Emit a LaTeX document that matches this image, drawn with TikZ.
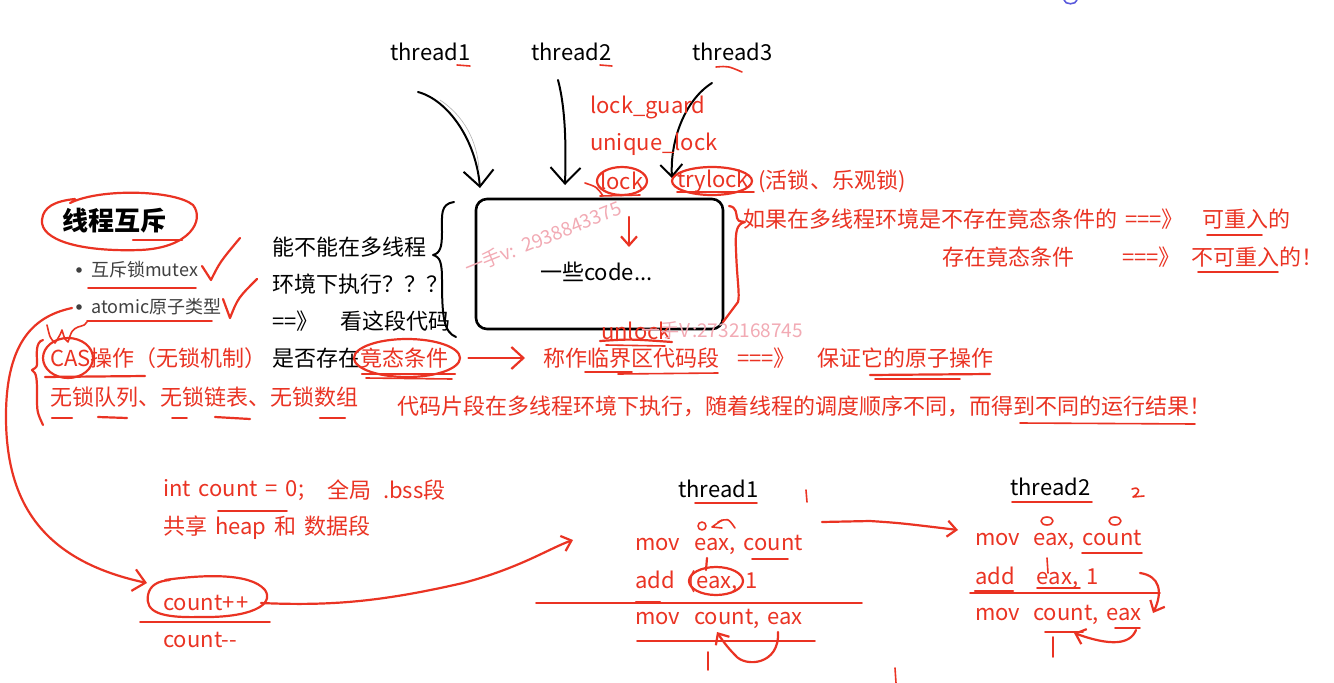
\documentclass[tikz,border=0pt]{standalone}
\usepackage{fontspec}
\setmainfont{Noto Sans CJK SC}[WordSpace=1.6]
\usetikzlibrary{arrows.meta,calc}
\definecolor{pr}{RGB}{234,51,35}
\definecolor{wm}{RGB}{242,170,180}
\definecolor{gr}{RGB}{64,64,64}
\definecolor{bl}{RGB}{90,90,220}
\begin{document}
\begin{tikzpicture}[x=1pt,y=-1pt,
  txt/.style={inner sep=0pt, anchor=west, font=\fontsize{22}{26}\selectfont},
  rt/.style={txt, text=pr},
  bt/.style={txt, text=black},
  st/.style={inner sep=0pt, anchor=west, font=\fontsize{18}{21}\selectfont, text=gr},
  wmt/.style={inner sep=0pt, font=\fontsize{19}{22}\selectfont, text=wm},
  pen/.style={draw=pr, line width=2.2pt, line cap=round, line join=round},
  thinpen/.style={draw=pr, line width=1.6pt, line cap=round, line join=round},
  bpen/.style={draw=black, line width=2pt, line cap=round, line join=round},
  barb/.style={-{Straight Barb[length=12pt,width=22pt]}},
  bbarb/.style={-{Straight Barb[length=16pt,width=30pt]}},
  sbarb/.style={-{Straight Barb[length=9pt,width=16pt]}},
]
\fill[white] (0,0) rectangle (1334,683);
\useasboundingbox (0,0) rectangle (1334,683);

% tiny blue mark at top
\draw[bl, line width=1.6pt] (1064,0) .. controls (1065,5) and (1076,5) .. (1077,0);

% ---------------- top threads ----------------
\node[bt] (t1) at (390,52) {thread1};
\node[bt] (t2) at (531,52) {thread2};
\node[bt] (t3) at (692,52) {thread3};
\draw[thinpen] (457,65) -- (470,66);
\draw[thinpen] (600,65) -- (612,66);
\draw[thinpen] (716,67) .. controls (728,66) .. (742,72);

\coordinate (a1s) at (418,92);
\coordinate (a2s) at (558,80);
\coordinate (a3s) at (712,83);

% code box
\node[draw=black, line width=2.6pt, rounded corners=11pt, minimum width=247pt, minimum height=130pt, inner sep=0pt] (box) at (599.5,264) {};
\node[bt] (code) at (540,272) {一些code...};

\coordinate (a1e) at (480,188);
\coordinate (a2e) at (565,185);
\coordinate (a3e) at (672,178);
\draw[bpen, bbarb] (a1s) .. controls (448,100) and (476,140) .. (a1e);
\draw[gray!60, line width=0.6pt] (440,100) .. controls (470,120) and (478,150) .. (479,170);
\draw[bpen, bbarb] (a2s) .. controls (566,110) and (566,150) .. (a2e);
\draw[bpen, barb] (a3s) .. controls (685,100) and (670,140) .. (a3e);

% lock texts
\node[rt] (lg) at (590,107) {lock\_guard};
\node[rt] (ul) at (590,144) {unique\_lock};
\node[rt] (lk) at (600,181) {lock};
\node[rt] (tl) at (677,181) {trylock};
\node[rt] (hs) at (758,181) {(活锁\hspace{1pt}、乐观锁)};
\draw[pen] (622,181) ellipse [x radius=25, y radius=14];
\draw[pen] (712,181) ellipse [x radius=40, y radius=14];
\draw[thinpen] (677,192) -- (754,192);
\draw[thinpen] (585,183) .. controls (597,187) .. (603,196);
\draw[thinpen] (600,196) -- (640,195);
\draw[pen, sbarb] (629,217) -- (629,247);

% brace left of box (black)
\draw[bpen] (454,202) .. controls (440,204) and (442,215) .. (442,232)
  .. controls (442,248) and (440,253) .. (433,255)
  .. controls (440,257) and (442,262) .. (442,280)
  .. controls (442,318) and (444,332) .. (456,337);

% left question text
\node[bt] (q1) at (272,247) {能不能在多线程};
\node[bt] (q2) at (272,284) {环境下执行？？？};
\node[bt] (q3) at (272,321) {==》};
\node[bt] (q3b) at (340,321) {看这段代码};
\node[bt] (q4) at (272,358) {是否存在};
\node[rt] (race) at (360,358) {竟态条件};
\draw[pen] (407,358) ellipse [x radius=53, y radius=19];
\draw[pen] (362,374) -- (455,374);
\draw[thinpen] (366,378) -- (452,379);

\node[rt] (crit) at (543,358) {称作临界区代码段};
\draw[pen, barb] ($(race.east)+(20,0)$) -- ($(crit.west)+(-18,0)$);
\node[rt] (eq1) at (737,358) {===》};
\node[rt] (atom) at (817,358) {保证它的原子操作};
\draw[thinpen] (585,372) -- (632,372);
\draw[thinpen] (618,374) -- (718,373);
\draw[pen] (870,375) -- (990,374);
\draw[thinpen] (875,379) -- (960,379);

\node[rt] (expl) at (397,406) {代码片段在多线程环境下执行，随着线程的调度顺序不同，而得到不同的运行结果！};
\draw[thinpen] (1020,423) -- (1195,424);

% right brace (red) and texts
\draw[pen] (729,206) .. controls (737,207) and (736,214) .. (737,218)
  .. controls (738,221) .. (745,222)
  .. controls (737,224) and (735,230) .. (736,250)
  .. controls (737,280) and (740,295) .. (738,302) -- (723,322);
\node[rt] (re1) at (743,219) {如果在多线程环境是不存在竟态条件的};
\node[rt] (re1b) at (1125,219) {===》};
\node[rt] (re1c) at (1202,219) {可重入的};
\draw[thinpen] (1207,235) -- (1262,235);
\node[rt] (re2) at (942,257) {存在竟态条件};
\node[rt] (re3) at (1122,257) {===》};
\node[rt] (re3b) at (1191,257) {不可重入的！};
\draw[thinpen] (1198,272) -- (1278,272);

% unlock
\node[rt] (unl) at (601,331) {unlock};
\draw[pen] (600,341) .. controls (630,339) .. (672,342);
\draw[thinpen] (606,345) -- (665,346);
\node[wmt, anchor=west] (wm2) at (641,330) {一手V\hspace{2pt}:2732168745};
\node[wmt, rotate=22] (wm1) at (543,238) {一手v: 2938843375};

% ---------------- left column ----------------
\node[inner sep=0pt, anchor=west, font=\fontsize{26}{30}\selectfont\bfseries] (title) at (62,221) {线程互斥};
\draw[pen] (70,203) .. controls (100,188) and (175,190) .. (193,205)
  .. controls (205,220) and (190,248) .. (140,250)
  .. controls (80,252) and (40,240) .. (42,220)
  .. controls (43,207) and (55,201) .. (75,199);
\draw[pen] (133,240) -- (182,240);

\fill[gr] (79,270) circle [radius=2.8];
\fill[gr] (79,307) circle [radius=2.8];
\node[st] (b1) at (91,270) {互斥锁mutex};
\node[st] (b2) at (91,307) {atomic原子类型};
\draw[thinpen] (88,288) -- (196,288);
\draw[thinpen] (87,321) -- (212,321);
\draw[pen] (202,266) -- (211,280) .. controls (220,262) .. (240,238);
\draw[pen] (223,299) -- (230,318) .. controls (238,298) .. (257,279);

\node[rt] (cas) at (50,358) {CAS操作（无锁机制）};
\node[rt] (lf) at (50,397) {无锁队列、无锁链表、无锁数组};
\draw[pen] (68,358) ellipse [x radius=25, y radius=20];
\draw[thinpen] (47,325) .. controls (50,338) .. (55,343) .. controls (60,335) .. (62,330)
  .. controls (65,340) .. (68,342) .. controls (72,330) .. (78,327) .. controls (85,325) .. (87,322);
\draw[pen] (45,377) -- (145,376);
\draw[pen] (52,418) -- (72,418);
\draw[pen] (98,417) -- (127,418);
\draw[thinpen] (172,418) -- (187,418);
\draw[pen] (215,417) -- (250,419);
\draw[pen] (320,418) -- (345,418);
% red brace for CAS block
\draw[pen] (43,340) .. controls (35,342) and (37,355) .. (37,362)
  .. controls (37,367) .. (32,370)
  .. controls (37,373) and (37,380) .. (37,395)
  .. controls (37,412) .. (43,425);

% ---------------- bottom left ----------------
\node[rt] (ic) at (163,490) {int count = 0;};
\node[rt] (ic2) at (327,490) {全局};
\node[rt] (ic3) at (383,490) {.bss段};
\node[rt] (sh) at (163,528) {共享 heap 和 数据段};
\draw[thinpen] (218,511) -- (287,511);
\node[rt] (cpp) at (163,603) {count+\hspace{2pt}+};
\node[rt] (cmm) at (163,640) {count-{}-};
\draw[pen] (165,580) .. controls (200,575) and (250,572) .. (265,590)
  .. controls (275,605) and (250,618) .. (200,617)
  .. controls (160,618) and (145,612) .. (148,595)
  .. controls (150,585) and (158,581) .. (170,580);
\draw[thinpen] (140,622) -- (270,622);

% long red curve from atomic bullet to count++
\coordinate (cs) at (72,308);
\coordinate (ce) at (147,583);
\draw[pen, barb] (cs) .. controls (40,315) and (5,335) .. (6,420)
  .. controls (7,500) and (40,560) .. (ce);

% ---------------- thread1 block ----------------
\node[bt] (bt1) at (678,489) {thread1};
\draw[thinpen] (695,503) -- (757,503);
\draw[thinpen] (806,490) -- (807,502);
\node[rt] (m1) at (635,545) {mov\hspace{14pt}eax, count};
\node[rt] (d1) at (635,582) {add\hspace{14pt}(eax, 1};
\node[rt] (s1) at (635,619) {mov\hspace{14pt}count, eax};
\draw[thinpen] (702,526) circle [radius=4];
\draw[thinpen] (722,520) -- (712,527) -- (722,528);
\draw[thinpen] (718,522) .. controls (728,518) .. (735,528);
\draw[thinpen] (752,559) -- (788,559);
\draw[pen] (707,558) -- (706,570);
\draw[pen] (716,581) ellipse [x radius=27, y radius=14];
\draw[pen] (636,602) -- (660,602);
\draw[thinpen] (536,603) -- (862,603);
\draw[thinpen] (637,641) -- (815,641);
\draw[pen, sbarb] (778,632) .. controls (780,665) and (745,668) .. (735,655)
  .. controls (728,648) and (722,640) .. (717,632);
\draw[thinpen] (708,652) -- (708,670);
\draw[thinpen] (895,668) -- (896,683);

% count++ -> thread1 block
\coordinate (te) at (573,540);
\draw[pen, sbarb] ($(cpp.east)+(12,0)$) .. controls (330,606) and (380,602) .. (463,583)
  .. controls (520,568) and (550,548) .. (te);

% thread1 -> thread2 arrow
\coordinate (xs) at (822,522);
\coordinate (xe) at (958,530);
\draw[pen, sbarb] (xs) -- (870,521) .. controls (900,523) .. (xe);

% ---------------- thread2 block ----------------
\node[bt] (bt2) at (1010,487) {thread2};
\draw[thinpen] (1012,502) -- (1092,502);
\draw[thinpen] (1132,489) .. controls (1140,486) and (1141,492) .. (1133,497) -- (1144,496);
\node[rt] (m2) at (975,540) {mov\hspace{13pt}eax, count};
\node[rt] (d2) at (975,578) {add\hspace{22pt}eax, 1};
\node[rt] (s2) at (975,615) {mov\hspace{13pt}count, eax};
\draw[thinpen] (1047,521) ellipse [x radius=6, y radius=4];
\draw[thinpen] (1115,521) ellipse [x radius=6, y radius=4];
\draw[thinpen] (1082,553) -- (1142,553);
\draw[thinpen] (1047,558) -- (1048,573);
\draw[pen] (975,591) -- (1013,591);
\draw[thinpen] (1037,588) -- (1080,588);
\draw[thinpen] (970,593) -- (1160,593);
\draw[pen, sbarb] (1140,573) .. controls (1160,576) and (1163,592) .. (1153,613);
\draw[thinpen] (1045,632) -- (1083,632);
\draw[thinpen] (1115,628) -- (1140,628);
\draw[pen, sbarb] (1136,630) .. controls (1130,645) and (1110,646) .. (1074,633);
\draw[thinpen] (1053,637) -- (1053,657);
\end{tikzpicture}
\end{document}
